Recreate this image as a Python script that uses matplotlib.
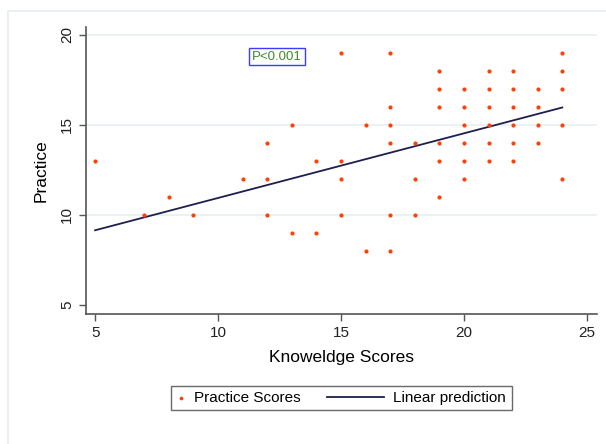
import numpy as np
import matplotlib
matplotlib.use("Agg")
import matplotlib.pyplot as plt
from matplotlib.patches import Rectangle
from matplotlib.legend_handler import HandlerLine2D

plt.rcParams['font.family'] = ['Liberation Sans', 'DejaVu Sans']

# knowledge score -> practice scores observed at that score
knowledge = [5, 7, 8, 9, 11, 12, 12, 12, 13, 13, 14, 14, 15, 15, 15, 15, 16, 16,
             17, 17, 17, 17, 17, 17, 18, 18, 18,
             19, 19, 19, 19, 19, 19, 20, 20, 20, 20, 20, 20,
             21, 21, 21, 21, 21, 21, 22, 22, 22, 22, 22, 22,
             23, 23, 23, 23, 24, 24, 24, 24, 24]
practice = [13, 10, 11, 10, 12, 14, 12, 10, 15, 9, 13, 9, 19, 13, 12, 10, 15, 8,
            19, 16, 15, 14, 10, 8, 14, 12, 10,
            18, 17, 16, 14, 13, 11, 17, 16, 15, 14, 13, 12,
            18, 17, 16, 15, 14, 13, 18, 17, 16, 15, 14, 13,
            17, 16, 15, 14, 19, 18, 17, 15, 12]

# linear prediction at the ends of the range
fit_x = [5, 24]
fit_y = [9.15, 15.97]

xticks = [5, 10, 15, 20, 25]
yticks = [5, 10, 15, 20]


class LongLine(HandlerLine2D):
    # line sample that reaches back into the column gap
    def get_xdata(self, legend, xdescent, ydescent, width, height, fontsize):
        x0 = -xdescent + width - 3.73 * fontsize
        x1 = -xdescent + width
        return np.array([x0, x1]), np.array([(x0 + x1) / 2])


fig = plt.figure(figsize=(6.06, 4.44), dpi=100)
fig.patches.append(Rectangle((8 / 606, -0.1), 1.1, 1 - 11 / 444 + 0.1,
                             transform=fig.transFigure, fill=False,
                             edgecolor='#e6eef0', linewidth=1.2))

ax = fig.add_axes([86 / 606, 1 - 314 / 444, (597 - 86) / 606, (314 - 27) / 444])

ax.scatter(knowledge, practice, s=9, color='#ff3f0a', linewidths=0,
           label='Practice Scores', zorder=3)
line, = ax.plot(fit_x, fit_y, color='#1c1f4f', linewidth=1.3,
                label='Linear prediction', zorder=2)

ax.set_xlim(4.63, 25.41)
ax.set_ylim(4.5, 20.44)
ax.set_xticks(xticks)
ax.set_yticks(yticks)
for y in [10, 15, 20]:
    ax.axhline(y, color='#e8f0f2', linewidth=1.2, zorder=0)

for s in ['top', 'right']:
    ax.spines[s].set_visible(False)
for s in ['left', 'bottom']:
    ax.spines[s].set_color('#555555')
    ax.spines[s].set_linewidth(1.2)

ax.tick_params(axis='both', direction='out', length=5, width=1, color='#555555',
               labelsize=11, labelcolor='#222222')
plt.setp(ax.get_yticklabels(), rotation=90, va='center')

ax.set_xlabel('Knoweldge Scores', fontsize=12.5, labelpad=7)
ax.set_ylabel('Practice', fontsize=12.5, labelpad=8)

ax.text(12.4, 18.8, 'P<0.001', color='#3c8c28', fontsize=9.5, ha='center',
        va='center',
        bbox=dict(boxstyle='square,pad=0.2', facecolor='white',
                  edgecolor='#3c3cff', linewidth=1))

leg = fig.legend(loc='center', bbox_to_anchor=(341.5 / 606, 1 - 398 / 444), ncol=2,
                 fontsize=11, frameon=True, fancybox=False, markerscale=0.9,
                 handlelength=0.5, columnspacing=5.0, handletextpad=0.6,
                 borderpad=0.35, handler_map={line: LongLine()})
leg.get_frame().set_edgecolor('#444444')
leg.get_frame().set_linewidth(1)

fig.savefig('out.png', dpi=100)
